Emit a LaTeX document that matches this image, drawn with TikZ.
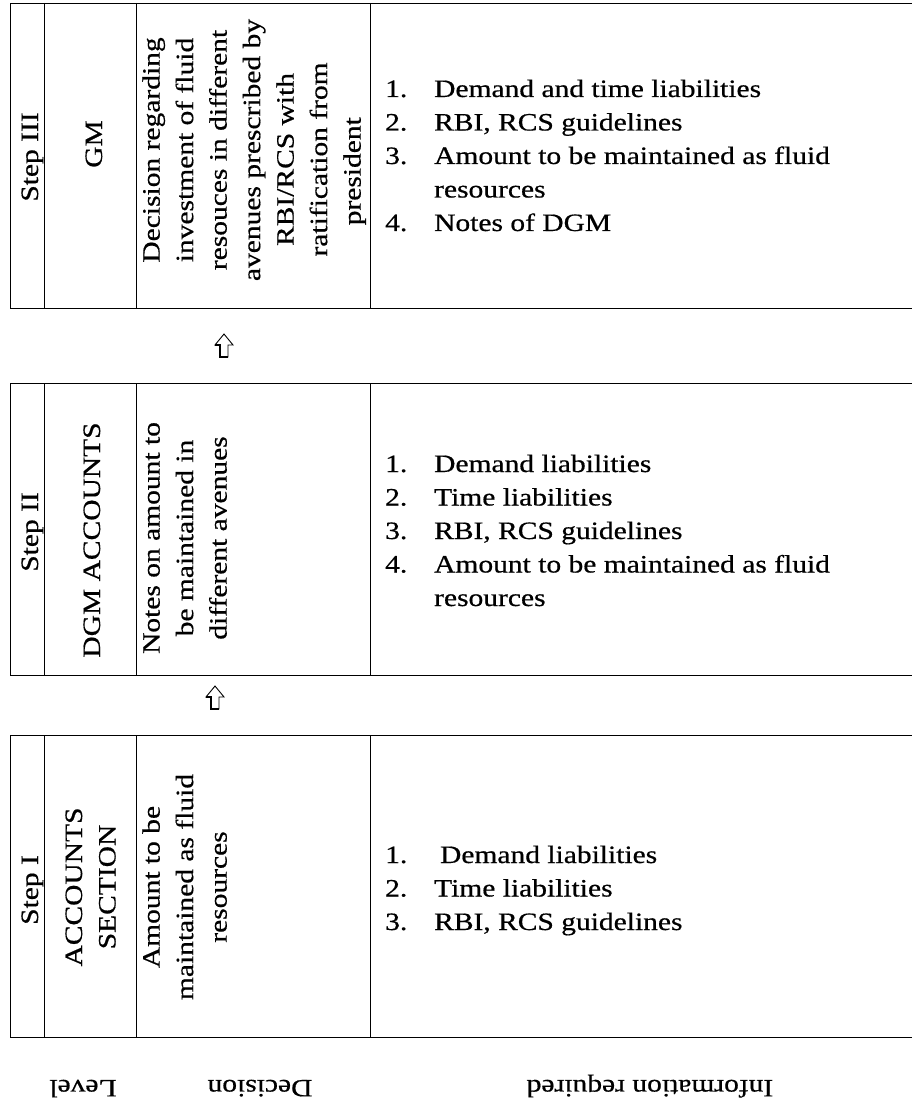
\documentclass[tikz,border=0pt]{standalone}
\usepackage{fontspec}
\setmainfont{Liberation Serif}[FakeBold=0.5]
\newcommand{\sx}[1]{\scalebox{1.18}[1]{#1}}
\begin{document}
\begin{tikzpicture}[x=1pt,y=-1pt,
  frame/.style={line width=0.9pt},
  rowbox/.style={inner sep=0pt, minimum width=902pt, anchor=north west},
  txt/.style={inner sep=0pt, font=\fontsize{25}{33.5}\selectfont},
  rot/.style={txt, rotate=90},
  flip/.style={txt, rotate=180},
  hollow/.style={line width=0.9pt, fill=white, line join=miter},
  shade/.style={line width=2.2pt}]
\useasboundingbox (0,0) rectangle (912,1105);

% column positions
\coordinate (c1) at (44,0);
\coordinate (c2) at (136,0);
\coordinate (c3) at (370,0);

% rows
\node[rowbox, minimum height=305pt] (r3) at (10,3) {};
\node[rowbox, minimum height=292pt] (r2) at (10,383) {};
\node[rowbox, minimum height=302pt] (r1) at (10,735) {};

\foreach \r in {r3,r2,r1}{
  \draw[frame] (\r.north east) -- (\r.north west) -- (\r.south west) -- (\r.south east);
  \foreach \c in {c1,c2,c3}{
    \draw[frame] (\r.north -| \c) -- (\r.south -| \c);
  }
}

% ---- Step III ----
\node[rot, anchor=base] (s3) at (38,157) {\sx{Step III}};
\node[rot, anchor=base] (l3) at (102,144) {\sx{GM}};
\node[rot, anchor=north] (d3) at (136,150) {\sx{\begin{tabular}[t]{@{}c@{}}Decision regarding\\investment of fluid\\resouces in different\\avenues prescribed by\\RBI/RCS with\hspace{16pt}\null\\ratification from\hspace{16pt}\null\\president\hspace{36pt}\null\end{tabular}}};
\node[txt, anchor=base west] (i3) at (385,97) {\sx{\begin{tabular}[t]{@{}p{41.5pt}@{}l@{}}1.&Demand and time liabilities\\2.&RBI, RCS guidelines\\3.&Amount to be maintained as fluid\\&resources\\4.&Notes of DGM\end{tabular}}};

% ---- Step II ----
\node[rot, anchor=base] (s2) at (38,532) {\sx{Step II}};
\node[rot, anchor=base] (l2) at (100,540) {\sx{DGM ACCOUNTS}};
\node[rot, anchor=north] (d2) at (136,538) {\sx{\begin{tabular}[t]{@{}c@{}}Notes on amount to\\be maintained in\\different avenues\end{tabular}}};
\node[txt, anchor=base west] (i2) at (385,472) {\sx{\begin{tabular}[t]{@{}p{41.5pt}@{}l@{}}1.&Demand liabilities\\2.&Time liabilities\\3.&RBI, RCS guidelines\\4.&Amount to be maintained as fluid\\&resources\end{tabular}}};

% ---- Step I ----
\node[rot, anchor=base] (s1) at (38,890) {\sx{Step I}};
\node[rot, anchor=base] (l1) at (82,887) {\sx{\begin{tabular}[t]{@{}c@{}}ACCOUNTS\\SECTION\end{tabular}}};
\node[rot, anchor=north] (d1) at (136,887) {\sx{\begin{tabular}[t]{@{}c@{}}Amount to be\\maintained as fluid\\resources\end{tabular}}};
\node[txt, anchor=base west] (i1) at (385,863) {\sx{\begin{tabular}[t]{@{}p{41.5pt}@{}l@{}}1.&\hspace{5pt}Demand liabilities\\2.&Time liabilities\\3.&RBI, RCS guidelines\end{tabular}}};

% ---- arrows between rows ----
\coordinate (a1) at (224,346);
\coordinate (a2) at (215,698);
\foreach \a in {a1,a2}{
  \draw[hollow, shift={(\a)}] (0,-12) -- (9,-1) -- (4,-1) -- (4,11) -- (-4,11) -- (-4,-1) -- (-9,-1) -- cycle;
  \draw[shade, shift={(\a)}] (-9,-1) -- (-4,-1) -- (-4,11) -- (4,11);
}

% ---- column headings (printed upside down) ----
\node[flip, anchor=base] (hl) at (83,1080) {\sx{Level}};
\node[flip, anchor=base] (hd) at (260,1080) {\sx{Decision}};
\node[flip, anchor=base] (hi) at (650,1080) {\sx{Information required}};
\end{tikzpicture}
\end{document}
